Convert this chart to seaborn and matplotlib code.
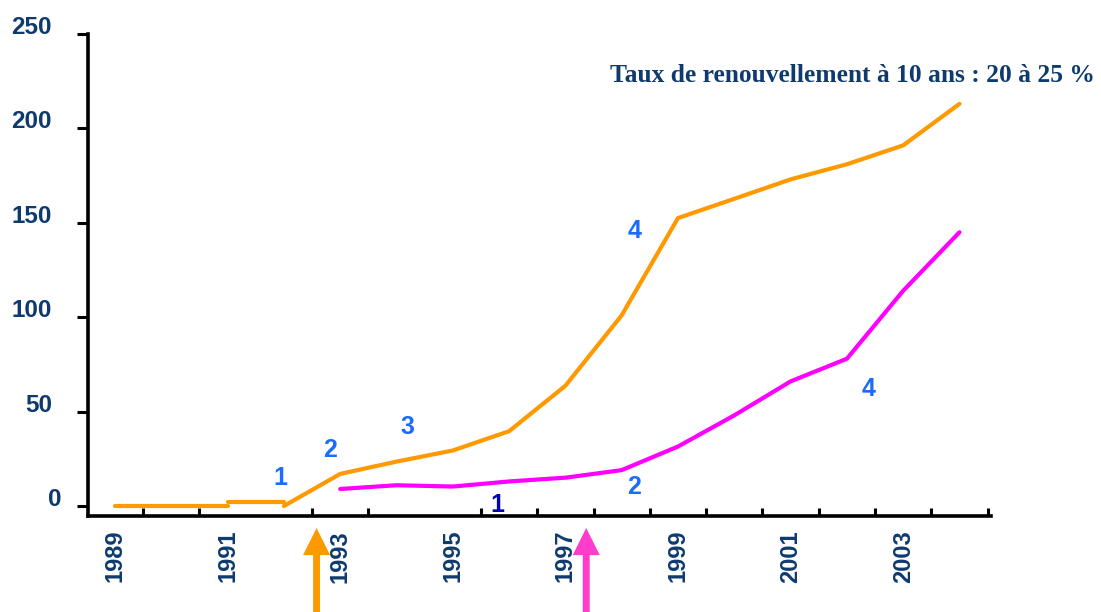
import matplotlib
matplotlib.use("Agg")
import matplotlib.pyplot as plt
import pandas as pd
import seaborn as sns
from matplotlib.transforms import ScaledTranslation

# Série orange (trois tronçons successifs)
orange_years = [1989, 1990, 1991, 1991, 1992, 1992, 1993, 1994, 1995, 1996,
                1997, 1998, 1999, 2000, 2001, 2002, 2003, 2004]
orange_values = [0, 0, 0, 2, 2, 0, 17, 23.5, 29.4, 39.6,
                 63.7, 101, 152.5, 162.7, 173, 181, 191, 213]
orange_piece = [1, 1, 1, 2, 2, 3, 3, 3, 3, 3, 3, 3, 3, 3, 3, 3, 3, 3]

# Série magenta
magenta_years = [1993, 1994, 1995, 1996, 1997, 1998, 1999, 2000, 2001, 2002, 2003, 2004]
magenta_values = [9, 11, 10.3, 13, 15, 19, 31.5, 48, 66, 78, 114, 145]

# Repères numérotés
mark_text = ["1", "2", "3", "4", "4", "2", "1"]
mark_x = [1991.93, 1992.82, 1994.2, 1998.22, 2002.39, 1998.22, 1995.8]
mark_y = [14.9, 29.7, 41.9, 145.4, 62.1, 10.1, 0.5]
mark_dark = [False, False, False, False, False, False, True]

# Flèches de date
arrow_x = [1992.58, 1997.37]

y_ticks = [0, 50, 100, 150, 200, 250]
x_label_years = [1989, 1991, 1993, 1995, 1997, 1999, 2001, 2003]
x_tick_pos = [1989.5, 1990.5, 1992.5, 1993.5, 1995.5, 1996.5, 1997.5, 1998.5,
              1999.5, 2000.5, 2001.5, 2002.5, 2003.5, 2004.5]

title = "Taux de renouvellement à 10 ans : 20 à 25 %"

sns.set_theme(style="white")
plt.rcParams["font.family"] = ["Liberation Sans", "DejaVu Sans"]

NAVY = "#0e3a6e"
ORANGE = "#ff9900"
MAGENTA = "#ff00ff"
BLUE = "#1a6cff"
DARKBLUE = "#0000b0"

fig = plt.figure(figsize=(11.01, 6.12), dpi=100)
ax = fig.add_axes([88 / 1101, 1 - 516 / 612, (991 - 88) / 1101, (516 - 34) / 612])

df_o = pd.DataFrame({"année": orange_years, "valeur": orange_values, "tronçon": orange_piece})
df_m = pd.DataFrame({"année": magenta_years, "valeur": magenta_values})

sns.lineplot(data=df_o, x="année", y="valeur", units="tronçon", estimator=None,
             sort=False, color=ORANGE, linewidth=3, ax=ax)
sns.lineplot(data=df_m, x="année", y="valeur", estimator=None, sort=False,
             color=MAGENTA, linewidth=3, ax=ax)

ax.set_xlim(1988.52, 2004.56)
ax.set_ylim(-5.3, 250)
ax.set_xlabel("")
ax.set_ylabel("")

for side in ["top", "right"]:
    ax.spines[side].set_visible(False)
for side in ["left", "bottom"]:
    ax.spines[side].set_color("black")
    ax.spines[side].set_linewidth(2.6)
ax.spines["left"].set_bounds(-5.3, 250)

ax.set_yticks(y_ticks)
ax.set_yticklabels([str(v) for v in y_ticks])
ax.tick_params(axis="y", direction="out", length=8, width=2.2, color="black",
               pad=18, labelsize=17.5, labelcolor=NAVY, left=True)
for lbl in ax.get_yticklabels():
    lbl.set_fontweight("bold")
    lbl.set_verticalalignment("baseline")
# le zéro est décalé vers l'axe
zero_lbl = ax.yaxis.get_major_ticks()[0].label1
zero_lbl.set_transform(zero_lbl.get_transform()
                       + ScaledTranslation(10 / 100, 0, fig.dpi_scale_trans))

# graduations internes entre les années, étiquettes aux années impaires
ax.set_xticks(x_tick_pos)
ax.set_xticklabels([])
ax.tick_params(axis="x", which="major", direction="in", length=6, width=2.2,
               color="black", bottom=True)
ax.set_xticks(x_label_years, minor=True)
ax.set_xticklabels([str(y) for y in x_label_years], minor=True, rotation=90)
ax.tick_params(axis="x", which="minor", length=0, pad=10, labelsize=17,
               labelcolor=NAVY, bottom=True)
for lbl in ax.get_xticklabels(minor=True):
    lbl.set_fontweight("bold")

for t, x, y, dark in zip(mark_text, mark_x, mark_y, mark_dark):
    ax.text(x, y, t, ha="center", va="center", fontsize=18, fontweight="bold",
            color=DARKBLUE if dark else BLUE)

for x, c in zip(arrow_x, [ORANGE, "#ff3dcc"]):
    ax.annotate("", xy=(x, 1 - 528 / 612), xytext=(x, -0.05),
                xycoords=("data", "figure fraction"),
                textcoords=("data", "figure fraction"),
                arrowprops=dict(width=5, headwidth=19.5, headlength=19.5,
                                shrink=0, color=c, linewidth=0),
                annotation_clip=False)

fig.text(1095 / 1101, 1 - 75 / 612, title, ha="right", va="center",
         fontsize=18.4, fontweight="bold", color=NAVY,
         family=["Liberation Serif", "DejaVu Serif"])

fig.savefig("out.png", dpi=100, facecolor="white")
